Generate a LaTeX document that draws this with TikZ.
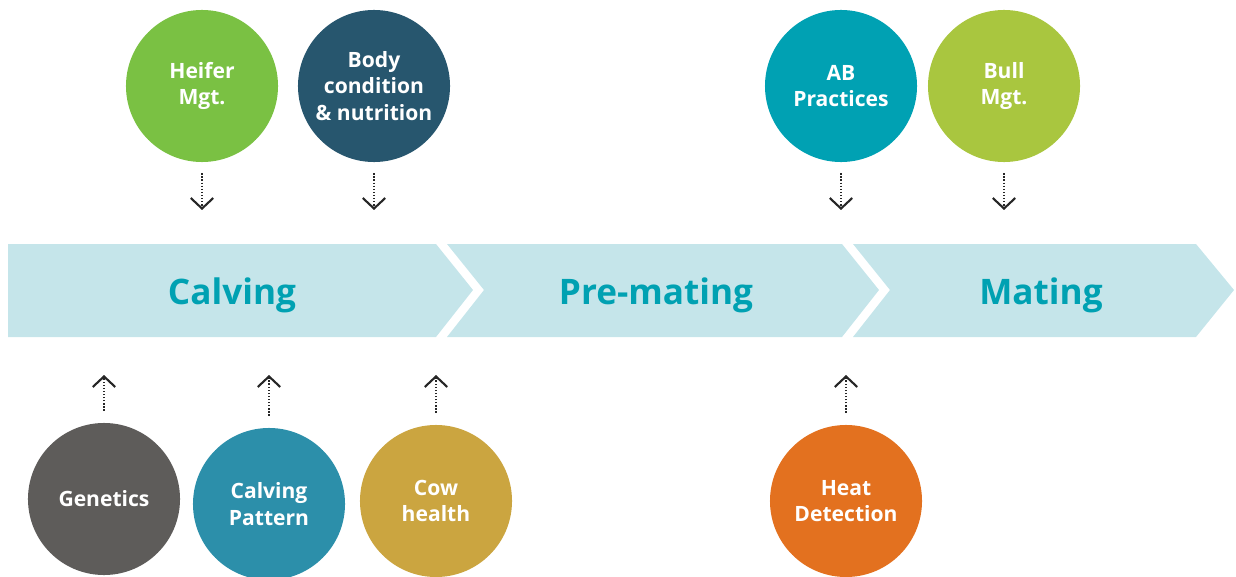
\documentclass[tikz,border=0pt]{standalone}
\usepackage{fontspec}
\setmainfont{Open Sans}
\usetikzlibrary{positioning, arrows.meta}

\definecolor{bandfill}{HTML}{C5E5EA}
\definecolor{bandtext}{HTML}{00A1B2}
\definecolor{heiferc}{HTML}{7AC143}
\definecolor{bodyc}{HTML}{27566E}
\definecolor{abc}{HTML}{00A1B3}
\definecolor{bullc}{HTML}{A9C63F}
\definecolor{geneticsc}{HTML}{5E5C5A}
\definecolor{patternc}{HTML}{2C8FAA}
\definecolor{cowc}{HTML}{CBA540}
\definecolor{heatc}{HTML}{E3711F}

\begin{document}
\begin{tikzpicture}[
    x=0.025cm, y=-0.025cm,
    factor/.style={circle, minimum size=3.8cm, inner sep=0pt, text=white,
                   font=\fontsize{15}{19}\selectfont\bfseries, align=center},
    stage/.style={anchor=base, text=bandtext, font=\fontsize{25}{30}\selectfont\bfseries},
    chev/.style={fill=bandfill},
    arr/.style={draw, -{Straight Barb[length=7.5pt, width=16pt, line width=1.5pt]},
                line width=1.1pt, dash pattern=on 0.9pt off 1.3pt, color=black!85},
]
\useasboundingbox (0,0) rectangle (1236,577);

% --- Band ---
\fill[chev] (8,244) -- (436,244) -- (473,290) -- (436,337) -- (8,337) -- cycle;
\fill[chev] (447,244) -- (842,244) -- (879,290) -- (842,337) -- (447,337) -- (484,290) -- cycle;
\fill[chev] (853,244) -- (1196,244) -- (1234,290) -- (1196,337) -- (853,337) -- (890,290) -- cycle;
\coordinate (bandtop) at (0,244);
\coordinate (bandbot) at (0,337);

\node[stage] (calving) at (232,304) {Calving};
\node[stage] (premating) at (656,304) {Pre-mating};
\node[stage] (mating) at (1041,304) {Mating};

% --- Top factors ---
\node[factor, fill=heiferc] (heifer) at (202,86) {Heifer\\Mgt.};
\node[factor, fill=bodyc] (body) at (374,86) {Body\\condition\\\& nutrition};
\node[factor, fill=abc] (ab) at (841,86) {AB\\Practices};
\node[factor, fill=bullc] (bull) at (1004,86) {Bull\\Mgt.};

% --- Bottom factors ---
\node[factor, fill=geneticsc] (genetics) at (104,499) {Genetics};
\node[factor, fill=patternc] (pattern) at (269,504) {Calving\\Pattern};
\node[factor, fill=cowc] (cow) at (436,501) {Cow\\health};
\node[factor, fill=heatc] (heat) at (846,501) {Heat\\Detection};

% --- Arrows ---
\foreach \f in {heifer, body, ab, bull}
  \draw[arr] ([yshift=-11*0.025cm]\f.south) -- ([yshift=34*0.025cm]\f.south |- bandtop);
\foreach \f in {genetics, pattern, cow, heat}
  \draw[arr] ([yshift=12*0.025cm]\f.north) -- ([yshift=-38*0.025cm]\f.north |- bandbot);
\end{tikzpicture}
\end{document}
